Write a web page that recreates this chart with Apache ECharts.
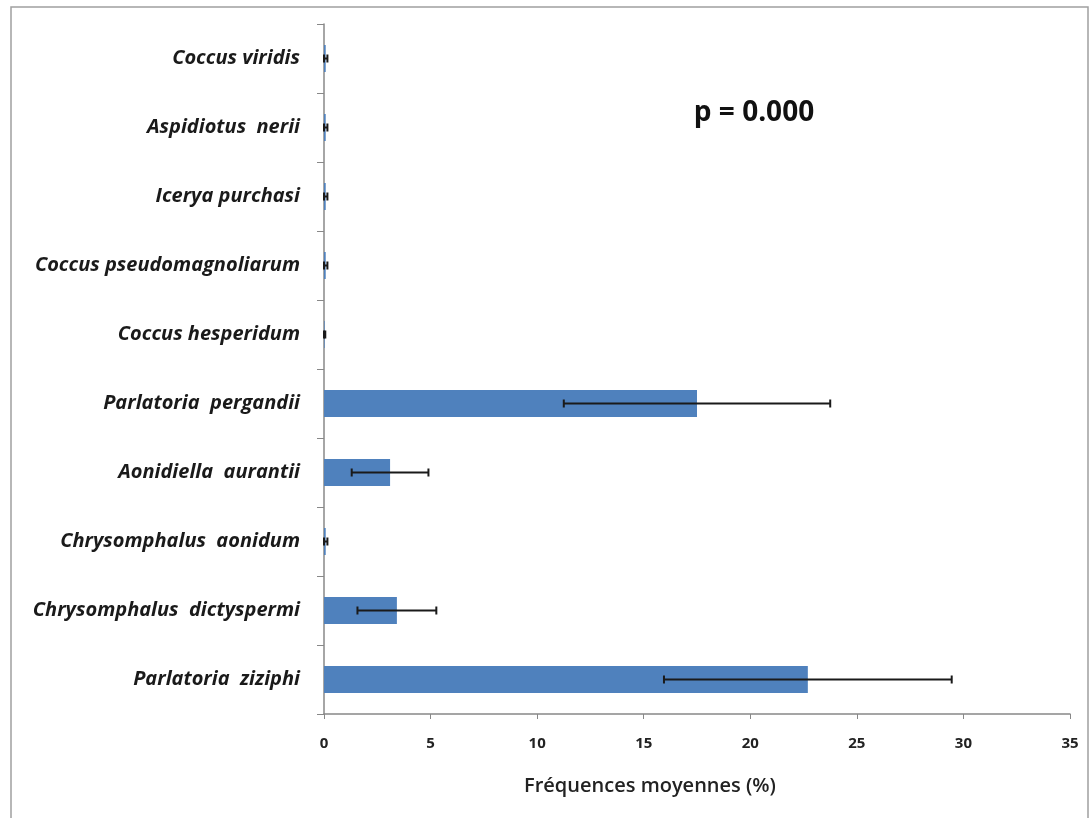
<!DOCTYPE html>
<html>
<head>
<meta charset="utf-8">
<script src="https://cdn.jsdelivr.net/npm/echarts@6/dist/echarts.min.js"></script>
<style>
html,body{margin:0;padding:0;background:#fff;}
#chart{width:1090px;height:818px;}
</style>
</head>
<body>
<div id="chart"></div>
<script>
// Categories, bottom to top
const categories = [
  'Parlatoria  ziziphi',
  'Chrysomphalus  dictyspermi',
  'Chrysomphalus  aonidum',
  'Aonidiella  aurantii',
  'Parlatoria  pergandii',
  'Coccus hesperidum',
  'Coccus pseudomagnoliarum',
  'Icerya purchasi',
  'Aspidiotus  nerii',
  'Coccus viridis'
];
const meanValues = [22.7, 3.42, 0.08, 3.1, 17.5, 0.03, 0.08, 0.08, 0.08, 0.08];
const errorValues = [6.75, 1.85, 0.08, 1.8, 6.25, 0.03, 0.08, 0.08, 0.08, 0.08];
const xTicks = [0, 5, 10, 15, 20, 25, 30, 35];
const xTitle = 'Fréquences moyennes (%)';
const pText = 'p = 0.000';

const errData = categories.map((c, i) => [i, meanValues[i] - errorValues[i], meanValues[i] + errorValues[i]]);

const chart = echarts.init(document.getElementById('chart'));
const FONT = '"Open Sans"';
chart.setOption({
  animation: false,
  backgroundColor: '#fff',
  grid: {left: 324, right: 20, top: 24, bottom: 104},
  xAxis: {
    type: 'value', min: xTicks[0], max: xTicks[xTicks.length - 1], interval: 5,
    axisLine: {show: true, lineStyle: {color: '#888', width: 1.5}},
    axisTick: {show: true, length: 5, lineStyle: {color: '#888'}},
    axisLabel: {fontFamily: FONT, fontSize: 15, fontWeight: 'bold', color: '#222', margin: 22},
    splitLine: {show: false}
  },
  yAxis: {
    type: 'category', data: categories,
    axisLine: {show: true, lineStyle: {color: '#888', width: 1.5}},
    axisTick: {show: true, length: 7, lineStyle: {color: '#888'}},
    axisLabel: {fontFamily: FONT, fontSize: 20, fontWeight: 'bold', fontStyle: 'italic', color: '#1a1a1a', margin: 24}
  },
  series: [
    {
      type: 'bar', data: meanValues, barWidth: 27,
      itemStyle: {color: '#4F81BD'}
    },
    {
      type: 'custom', data: errData, z: 5,
      renderItem: function (params, api) {
        const y = api.value(0);
        const lo = api.coord([api.value(1), y]);
        const hi = api.coord([api.value(2), y]);
        const h = 4;
        const style = {stroke: '#1a1a1a', lineWidth: 2};
        return {type: 'group', children: [
          {type: 'line', shape: {x1: lo[0], y1: lo[1], x2: hi[0], y2: hi[1]}, style: style},
          {type: 'line', shape: {x1: lo[0], y1: lo[1] - h, x2: lo[0], y2: lo[1] + h}, style: style},
          {type: 'line', shape: {x1: hi[0], y1: hi[1] - h, x2: hi[0], y2: hi[1] + h}, style: style}
        ]};
      },
      encode: {y: 0, x: [1, 2]}
    }
  ],
  graphic: [
    {type: 'rect', shape: {x: 11, y: 7, width: 1077, height: 830}, style: {fill: 'none', stroke: '#a0a0a0', lineWidth: 1.5}},
    {type: 'text', x: 650, y: 786, style: {text: xTitle, fontFamily: FONT, fontSize: 20, fontWeight: 600, fill: '#222', align: 'center', verticalAlign: 'middle'}},
    {type: 'text', x: 754, y: 113, style: {text: pText, fontFamily: FONT, fontSize: 28, fontWeight: 'bold', fill: '#111', align: 'center', verticalAlign: 'middle'}}
  ]
});
</script>
</body>
</html>
